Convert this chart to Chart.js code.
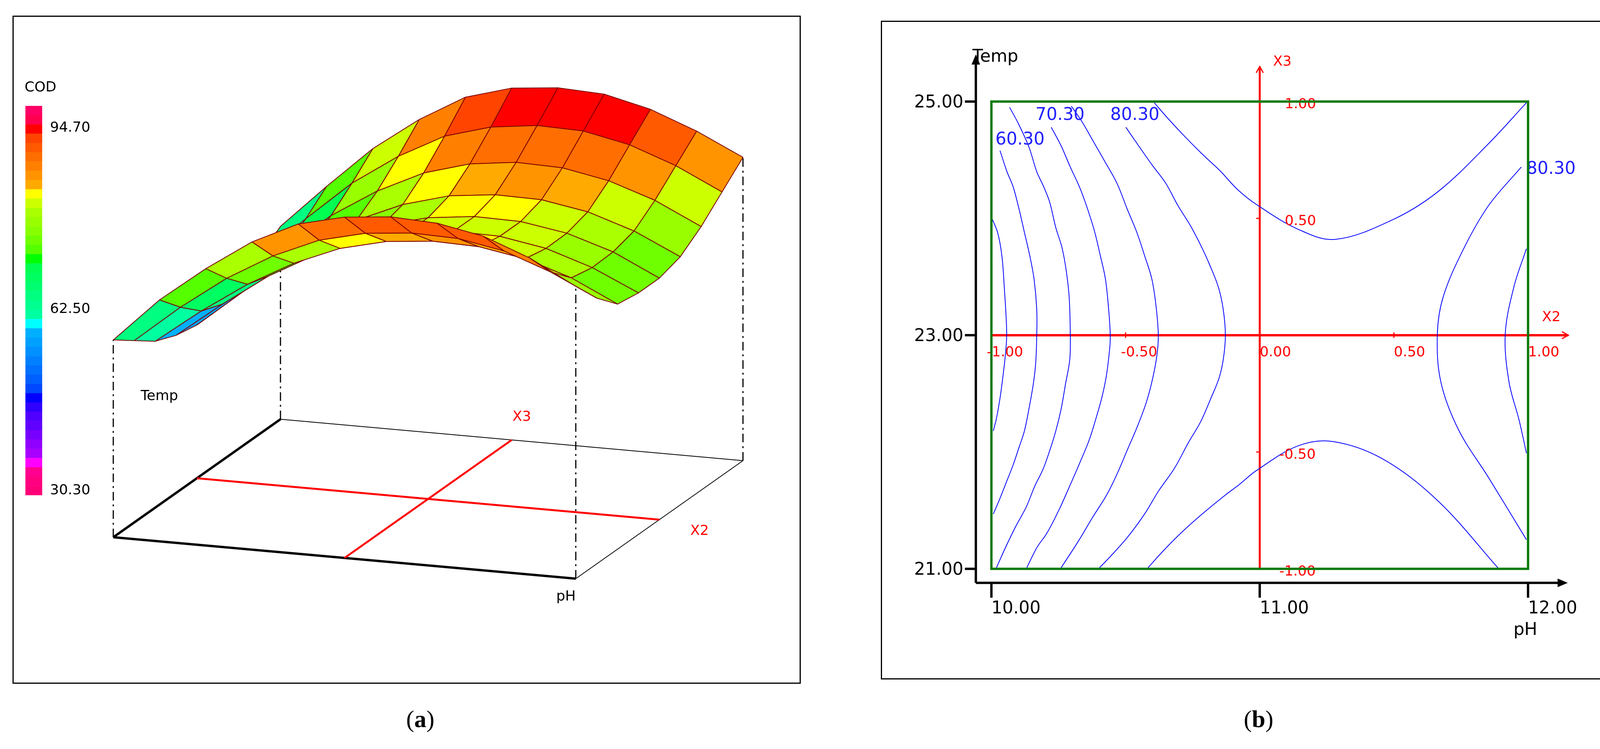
<!DOCTYPE html>
<html>
<head>
<meta charset="utf-8">
<script src="https://cdn.jsdelivr.net/npm/chart.js@4.4.1/dist/chart.umd.min.js"></script>
<style>
  body { margin: 0; background: #fff; width: 4221px; height: 1917px; position: relative; overflow: hidden; }
  .panel { position: absolute; }
  .cap { position: absolute; font-family: "Liberation Serif", serif; font-size: 62px; transform: translateX(-50%); }
  .cap b { font-weight: bold; }
</style>
</head>
<body>
<div class="panel" style="left:32px;top:40px;width:2018px;height:1710px"><canvas id="surf" width="2018" height="1710"></canvas></div>
<div class="panel" style="left:2255px;top:53px;width:1935px;height:1686px"><canvas id="cont" width="1935" height="1686"></canvas></div>
<div class="cap" style="left:1076px;top:1805px">(<b>a</b>)</div>
<div class="cap" style="left:3222px;top:1805px">(<b>b</b>)</div>
<script>
// 데이터
const phValues = [10.0, 10.2, 10.4, 10.6, 10.8, 11.0, 11.2, 11.4, 11.6, 11.8, 12.0];
const tempValues = [21, 21.5, 22, 22.5, 23, 23.5, 24, 24.5, 25];
const codGrid = [
  [62, 72, 80, 87, 92, 94.5, 95.5, 95, 93, 89, 83.5],
  [58.5, 67, 74.5, 80.5, 85, 87.5, 88.5, 88.2, 86.3, 82.5, 77.5],
  [55, 62.8, 69.8, 75.5, 79.8, 82.3, 83.3, 83, 81.2, 77.8, 72.8],
  [53, 61, 68.3, 74, 78.5, 81, 82.2, 82, 80.2, 76.8, 72],
  [52, 60.5, 68, 74, 78.3, 81, 82.2, 82, 80.3, 77, 72],
  [52.5, 61.3, 69, 75.2, 79.7, 82.6, 83.8, 83.6, 81.8, 78.4, 73.5],
  [54.5, 63.5, 72, 78.5, 83.5, 86.5, 87.8, 87.5, 85.5, 82, 77],
  [57.5, 67, 76, 83, 88.5, 91.5, 92.8, 92.5, 90.3, 86.5, 81.5],
  [61, 71, 80.5, 88, 94, 97, 98, 97.5, 95, 91, 86]
];
const codBarColors = ['#ff0066','#ff0050','#ff0000','#ff4400','#ff5a00','#ff6e00','#ff8000','#ff9400','#ffaa00','#ffff00',
  '#ccff00','#aaff00','#99ff00','#88ff00','#70ff00','#55ff00','#00ff00','#00ff50','#00ff60','#00ff70','#00ff80','#00ff90',
  '#00ffa0','#00ffff','#00b0ff','#00a0ff','#0090ff','#0080ff','#0070ff','#0060ff','#0048ff','#0000ff','#3000ff','#5000ff',
  '#6000ff','#7800ff','#9000ff','#a800ff','#ff00ff','#ff0090','#ff0080','#ff0078'];
const codBarTicks = [94.70, 62.50, 30.30];
const codBarTop = 98.6, codBarBottom = 29.5;

const phTicks = [10, 11, 12];
const tempTicks = [21, 23, 25];
const codedTicks = [-1, -0.5, 0, 0.5, 1];

const c553 = [[10.0,24.01],[10.023,23.88],[10.039,23.68],[10.048,23.41],[10.057,23.02],[10.052,22.83],[10.042,22.63],[10.032,22.46],[10.019,22.29],[10.007,22.18]];
const c603 = [[10.032,24.58],[10.058,24.40],[10.081,24.27],[10.103,24.08],[10.123,23.88],[10.143,23.68],[10.159,23.48],[10.169,23.22],[10.169,23.0],[10.165,22.76],[10.156,22.58],[10.140,22.37],[10.123,22.18],[10.103,22.04],[10.081,21.89],[10.052,21.72],[10.026,21.57],[10.007,21.47]];
const c653 = [[10.068,24.95],[10.103,24.80],[10.140,24.61],[10.169,24.40],[10.195,24.27],[10.217,24.14],[10.240,23.92],[10.263,23.75],[10.279,23.55],[10.290,23.32],[10.294,23.0],[10.292,22.79],[10.276,22.58],[10.260,22.37],[10.240,22.18],[10.217,22.01],[10.192,21.85],[10.162,21.71],[10.130,21.53],[10.090,21.36],[10.052,21.18],[10.019,21.01]];
const c703 = [[10.223,24.78],[10.260,24.62],[10.292,24.45],[10.328,24.27],[10.354,24.11],[10.383,23.90],[10.406,23.68],[10.425,23.48],[10.437,23.22],[10.443,23.0],[10.441,22.89],[10.429,22.66],[10.412,22.47],[10.390,22.29],[10.364,22.10],[10.328,21.90],[10.292,21.71],[10.253,21.51],[10.208,21.31],[10.169,21.18],[10.132,21.01]];
const c753 = [[10.298,24.96],[10.337,24.83],[10.377,24.67],[10.422,24.49],[10.468,24.30],[10.506,24.08],[10.542,23.88],[10.571,23.68],[10.598,23.48],[10.614,23.24],[10.622,23.0],[10.617,22.83],[10.601,22.63],[10.578,22.43],[10.546,22.23],[10.507,22.02],[10.468,21.81],[10.429,21.63],[10.377,21.44],[10.325,21.24],[10.260,21.01]];
const c803 = [[10.501,24.78],[10.546,24.63],[10.598,24.46],[10.650,24.30],[10.695,24.11],[10.741,23.94],[10.780,23.77],[10.812,23.61],[10.846,23.41],[10.864,23.22],[10.872,23.0],[10.864,22.79],[10.848,22.63],[10.818,22.46],[10.780,22.26],[10.734,22.08],[10.682,21.86],[10.624,21.67],[10.571,21.47],[10.507,21.27],[10.441,21.10],[10.403,21.01]];
const c853Top = [[10.607,24.99],[10.656,24.86],[10.721,24.70],[10.786,24.55],[10.851,24.41],[10.916,24.25],[10.987,24.12],[11.140,23.91],[11.281,23.82],[11.497,23.99],[11.665,24.23],[11.853,24.64],[11.994,24.99]];
const c853Bot = [[10.584,21.01],[10.643,21.16],[10.708,21.31],[10.786,21.47],[10.871,21.63],[10.923,21.72],[10.987,21.84],[11.140,22.05],[11.272,22.09],[11.459,21.94],[11.665,21.58],[11.891,21.00]];
const c803Right = [[11.975,24.44],[11.853,24.11],[11.760,23.74],[11.684,23.33],[11.662,23.01],[11.675,22.60],[11.741,22.19],[11.853,21.78],[11.994,21.25]];
const c753Right = [[11.994,23.74],[11.948,23.42],[11.915,23.01],[11.929,22.60],[11.967,22.27],[11.994,21.99]];
const contourLabels = [
  { text: '60.30', x: 10.015, y: 24.67 },
  { text: '70.30', x: 10.164, y: 24.88 },
  { text: '80.30', x: 10.443, y: 24.88 },
  { text: '80.30', x: 11.994, y: 24.42 }
];

const FONT = '"DejaVu Sans", Verdana, sans-serif';

// ---------- (a) 3D 반응표면 ----------
function codColor(v) {
  const f = (codBarTop - v) / (codBarTop - codBarBottom);
  let k = Math.floor(f * codBarColors.length);
  k = Math.max(0, Math.min(codBarColors.length - 1, k));
  return codBarColors[k];
}

const surfacePlugin = {
  id: 'surface',
  afterDraw(chart) {
    const ctx = chart.ctx, sx = chart.scales.x, sy = chart.scales.y;
    const P0 = [258, 1335], U = [1184, 106], V = [428, -302];
    const zBase = 17.3, zScale = 11.3;
    const proj = (a, b, z) => [sx.getPixelForValue(P0[0] + a * U[0] + b * V[0]),
                               sy.getPixelForValue(P0[1] + a * U[1] + b * V[1] - (z - zBase) * zScale)];
    const nI = phValues.length - 1, nJ = tempValues.length - 1;
    const ai = i => (phValues[i] - phValues[0]) / (phValues[nI] - phValues[0]);
    const bj = j => (tempValues[j] - tempValues[0]) / (tempValues[nJ] - tempValues[0]);
    ctx.save();
    // 테두리
    ctx.strokeStyle = '#000'; ctx.lineWidth = 3;
    ctx.strokeRect(1.5, 1.5, chart.width - 3, chart.height - 3);
    const line = (p, q, w, c, dash) => {
      ctx.beginPath(); ctx.setLineDash(dash || []); ctx.lineWidth = w; ctx.strokeStyle = c;
      ctx.moveTo(p[0], p[1]); ctx.lineTo(q[0], q[1]); ctx.stroke(); ctx.setLineDash([]);
    };
    // 바닥면
    line(proj(1, 1, zBase), proj(0, 1, zBase), 2, '#000');
    line(proj(1, 1, zBase), proj(1, 0, zBase), 2, '#000');
    line(proj(0, 0, zBase), proj(1, 0, zBase), 6, '#000');
    line(proj(0, 0, zBase), proj(0, 1, zBase), 6, '#000');
    line(proj(0, 0.5, zBase), proj(1, 0.5, zBase), 5, '#ff0000');
    line(proj(0.5, 0, zBase), proj(0.5, 1, zBase), 5, '#ff0000');
    // 모서리 수직선
    [[0, 0], [nI, 0], [0, nJ], [nI, nJ]].forEach(([i, j]) => {
      line(proj(ai(i), bj(j), zBase), proj(ai(i), bj(j), codGrid[j][i]), 3, '#000', [22, 10, 5, 10]);
    });
    // 표면 (뒤에서 앞으로)
    ctx.lineWidth = 2; ctx.strokeStyle = '#7a0000'; ctx.lineJoin = 'round';
    for (let j = nJ - 1; j >= 0; j--) {
      for (let i = 0; i < nI; i++) {
        const pts = [proj(ai(i), bj(j), codGrid[j][i]), proj(ai(i + 1), bj(j), codGrid[j][i + 1]),
                     proj(ai(i + 1), bj(j + 1), codGrid[j + 1][i + 1]), proj(ai(i), bj(j + 1), codGrid[j + 1][i])];
        const avg = (codGrid[j][i] + codGrid[j][i + 1] + codGrid[j + 1][i] + codGrid[j + 1][i + 1]) / 4;
        ctx.beginPath(); ctx.moveTo(pts[0][0], pts[0][1]);
        for (let k = 1; k < 4; k++) ctx.lineTo(pts[k][0], pts[k][1]);
        ctx.closePath(); ctx.fillStyle = codColor(avg); ctx.fill(); ctx.stroke();
      }
    }
    // 컬러바
    const barX = 33, barTop = 231, barBot = 1227, bh = (barBot - barTop) / codBarColors.length;
    codBarColors.forEach((c, k) => { ctx.fillStyle = c; ctx.fillRect(barX, barTop + k * bh, 43, bh + 0.5); });
    ctx.fillStyle = '#000'; ctx.font = '36px ' + FONT; ctx.textBaseline = 'middle'; ctx.textAlign = 'left';
    ctx.fillText('COD', 31, 185);
    codBarTicks.forEach(v => {
      const y = barTop + (codBarTop - v) / (codBarTop - codBarBottom) * (barBot - barTop);
      ctx.fillText(v.toFixed(2), 96, y);
    });
    ctx.fillText('Temp', 328, 975);
    ctx.fillText('pH', 1392, 1488);
    ctx.fillStyle = '#ff0000';
    ctx.fillText('X3', 1280, 1028);
    ctx.fillText('X2', 1735, 1320);
    ctx.restore();
  }
};

new Chart(document.getElementById('surf'), {
  type: 'scatter',
  data: { datasets: [{ data: [], pointRadius: 0 }] },
  options: {
    responsive: false, animation: false, devicePixelRatio: 1,
    layout: { padding: 0 },
    plugins: { legend: { display: false }, tooltip: { enabled: false } },
    scales: {
      x: { display: false, min: 0, max: 2018 },
      y: { display: false, min: 0, max: 1710, reverse: true }
    }
  },
  plugins: [surfacePlugin]
});

// ---------- (b) 등고선 ----------
const toXY = arr => arr.map(p => ({ x: p[0], y: p[1] }));
const contourSets = [c553, c603, c653, c703, c753, c803, c853Top, c853Bot, c803Right, c753Right].map(c => ({
  data: toXY(c), showLine: true, borderColor: '#0000ff', borderWidth: 2, pointRadius: 0, tension: 0.35, fill: false
}));
const redSets = [
  { data: [{ x: 10, y: 23 }, { x: 12.15, y: 23 }], showLine: true, borderColor: '#ff0000', borderWidth: 6, pointRadius: 0 },
  { data: [{ x: 11, y: 21 }, { x: 11, y: 25.3 }], showLine: true, borderColor: '#ff0000', borderWidth: 5, pointRadius: 0 }
];

const contourPlugin = {
  id: 'contourDecor',
  afterDatasetsDraw(chart) {
    const ctx = chart.ctx, sx = chart.scales.x, sy = chart.scales.y;
    const X = v => sx.getPixelForValue(v), Y = v => sy.getPixelForValue(v);
    ctx.save();
    ctx.strokeStyle = '#000'; ctx.lineWidth = 3;
    ctx.strokeRect(1.5, 1.5, chart.width - 3, chart.height - 3);
    // 검은 축
    const ax = X(9.942), ay = Y(20.88), axEnd = X(12.116), ayEnd = Y(25.33);
    ctx.lineWidth = 6; ctx.strokeStyle = '#000'; ctx.fillStyle = '#000';
    ctx.beginPath(); ctx.moveTo(ax, ay); ctx.lineTo(axEnd, ay); ctx.moveTo(ax, ay); ctx.lineTo(ax, ayEnd); ctx.stroke();
    ctx.beginPath(); ctx.moveTo(axEnd + 22, ay); ctx.lineTo(axEnd - 4, ay - 11); ctx.lineTo(axEnd - 4, ay + 11); ctx.closePath(); ctx.fill();
    ctx.beginPath(); ctx.moveTo(ax, ayEnd - 22); ctx.lineTo(ax - 11, ayEnd + 4); ctx.lineTo(ax + 11, ayEnd + 4); ctx.closePath(); ctx.fill();
    ctx.font = '44px ' + FONT; ctx.textBaseline = 'middle';
    tempTicks.forEach(t => {
      ctx.beginPath(); ctx.moveTo(ax - 28, Y(t)); ctx.lineTo(ax, Y(t)); ctx.stroke();
      ctx.textAlign = 'right'; ctx.fillText(t.toFixed(2), ax - 32, Y(t) + 4);
    });
    phTicks.forEach(p => {
      ctx.beginPath(); ctx.moveTo(X(p), ay); ctx.lineTo(X(p), ay + 38); ctx.stroke();
      ctx.textAlign = 'left'; ctx.fillText(p.toFixed(2), X(p), ay + 67);
    });
    ctx.textAlign = 'center'; ctx.fillText('Temp', ax + 50, ayEnd - 15);
    ctx.fillText('pH', X(11.99), ay + 122);
    // 빨간 코드 축
    ctx.strokeStyle = '#ff0000'; ctx.fillStyle = '#ff0000'; ctx.lineWidth = 3;
    const rx = X(12.15), ry = Y(23), vx = X(11), vy = Y(25.3);
    ctx.beginPath(); ctx.moveTo(rx - 16, ry - 9); ctx.lineTo(rx, ry); ctx.lineTo(rx - 16, ry + 9); ctx.stroke();
    ctx.beginPath(); ctx.moveTo(vx - 9, vy + 16); ctx.lineTo(vx, vy); ctx.lineTo(vx + 9, vy + 16); ctx.stroke();
    ctx.font = '36px ' + FONT; ctx.textAlign = 'left';
    codedTicks.forEach(c => {
      const px = X(11 + c), py = Y(23 + 2 * c);
      ctx.beginPath(); ctx.moveTo(px, ry - 7); ctx.lineTo(px, ry + 7); ctx.stroke();
      ctx.beginPath(); ctx.moveTo(vx - 9, py); ctx.lineTo(vx, py); ctx.stroke();
      ctx.fillText(c.toFixed(2), px - (c < 0 ? 12 : 0), ry + 45);
      if (c !== 0) ctx.fillText(c.toFixed(2), vx + (c < 0 ? 50 : 64), py + 8);
    });
    ctx.fillText('X3', vx + 34, vy - 12);
    ctx.fillText('X2', X(12.116) - 44, ry - 45);
    // 등고선 라벨
    ctx.font = '44px ' + FONT; ctx.fillStyle = '#2020ff';
    contourLabels.forEach(l => ctx.fillText(l.text, X(l.x), Y(l.y)));
    // 녹색 설계 영역
    ctx.strokeStyle = '#0a7a0a'; ctx.lineWidth = 6;
    ctx.strokeRect(X(10), Y(25), X(12) - X(10), Y(21) - Y(25));
    ctx.restore();
  }
};

new Chart(document.getElementById('cont'), {
  type: 'scatter',
  data: { datasets: [...contourSets, ...redSets] },
  options: {
    responsive: false, animation: false, devicePixelRatio: 1,
    layout: { padding: 0 },
    plugins: { legend: { display: false }, tooltip: { enabled: false } },
    scales: {
      x: { display: false, min: 9.588, max: 12.405 },
      y: { display: false, min: 20.053, max: 25.692 }
    }
  },
  plugins: [contourPlugin]
});
</script>
</body>
</html>
